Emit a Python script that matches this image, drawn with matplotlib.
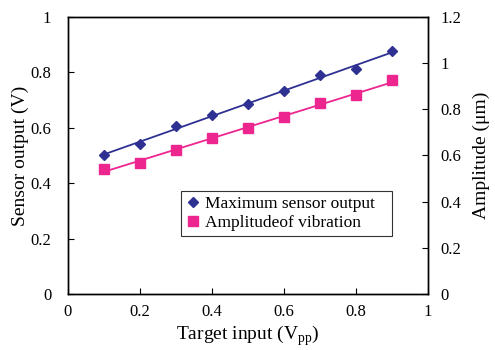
import numpy as np
import matplotlib.pyplot as plt

# --- data ---
target_input = [0.1, 0.2, 0.3, 0.4, 0.5, 0.6, 0.7, 0.8, 0.9]
sensor_output = [0.502, 0.543, 0.605, 0.645, 0.687, 0.732, 0.791, 0.812, 0.876]
amplitude = [0.542, 0.568, 0.625, 0.675, 0.720, 0.765, 0.829, 0.860, 0.925]

BLUE = "#2e3192"
PINK = "#ec258f"

plt.rcParams['font.family'] = ['Liberation Serif', 'DejaVu Serif']
plt.rcParams['mathtext.fontset'] = 'custom'
plt.rcParams['mathtext.rm'] = 'Liberation Serif'

fig = plt.figure(figsize=(4.95, 3.5), dpi=100)
ax = fig.add_axes([68 / 495, 1 - 294 / 350, (428 - 68) / 495, (294 - 17) / 350])
ax2 = ax.twinx()

x = np.array(target_input)

# linear trendlines
k1 = np.polyfit(x, sensor_output, 1)
k2 = np.polyfit(x, amplitude, 1)
ax.plot(x, np.polyval(k1, x), color=BLUE, lw=1.3, zorder=2)
ax2.plot(x, np.polyval(k2, x), color=PINK, lw=1.3, zorder=2)

h1, = ax.plot(x, sensor_output, 'D', color=BLUE, ms=5.5, ls='none', zorder=3,
              label="Maximum sensor output")
h2, = ax2.plot(x, amplitude, 's', color=PINK, ms=6.5, ls='none', zorder=3,
               label="Amplitudeof vibration")

ax.set_xlim(0, 1)
ax.set_ylim(0, 1)
ax2.set_ylim(0, 1.2)
ax.set_xticks([0, 0.2, 0.4, 0.6, 0.8, 1])
ax.set_xticklabels(["0", "0.2", "0.4", "0.6", "0.8", "1"])
ax.set_yticks([0, 0.2, 0.4, 0.6, 0.8, 1])
ax.set_yticklabels(["0", "0.2", "0.4", "0.6", "0.8", "1"])
ax2.set_yticks([0, 0.2, 0.4, 0.6, 0.8, 1, 1.2])
ax2.set_yticklabels(["0", "0.2", "0.4", "0.6", "0.8", "1", "1.2"])

for a in (ax, ax2):
    a.tick_params(direction='in', length=4, width=0.8, labelsize=12)
    for s in a.spines.values():
        s.set_linewidth(1.0)
ax.tick_params(top=False, right=False)
ax.tick_params(axis='y', pad=12)
ax.tick_params(axis='x', pad=7)
ax2.tick_params(left=False, pad=9)

ax.set_xlabel(r"Target input (V$_{\mathregular{pp}}$)", fontsize=14, labelpad=3)
ax.set_ylabel("Sensor output (V)", fontsize=14, labelpad=1)
ax2.set_ylabel("Amplitude (μm)", fontsize=14, labelpad=8)

leg = ax.legend(handles=[h1, h2], loc='upper left',
                bbox_to_anchor=(0.314, 0.195, 0.586, 0.178), mode='expand',
                fontsize=12.5, frameon=True, fancybox=False, edgecolor='black',
                handlelength=0.8, handletextpad=0.3, borderpad=0.3, labelspacing=0.15,
                borderaxespad=0)
leg.get_frame().set_linewidth(0.8)
leg.set_zorder(10)

fig.savefig("out.png", dpi=100)
